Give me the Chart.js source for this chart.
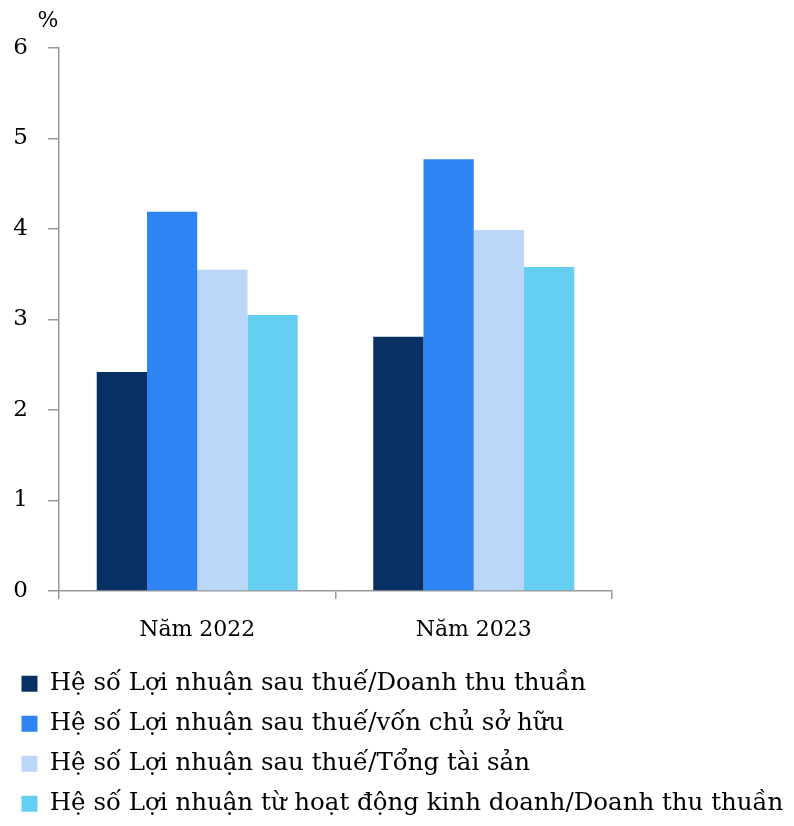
<!DOCTYPE html>
<html>
<head>
<meta charset="utf-8">
<script src="https://cdn.jsdelivr.net/npm/chart.js@4/dist/chart.umd.min.js"></script>
<style>
  html, body { margin: 0; padding: 0; background: #fff; }
  #wrap { width: 794px; height: 826px; }
</style>
</head>
<body>
<div id="wrap"><canvas id="chart" width="794" height="826"></canvas></div>
<script>
// -------- Data ----------
const categories = ["Năm 2022", "Năm 2023"];
const seriesNames = [
  "Hệ số Lợi nhuận sau thuế/Doanh thu thuần",
  "Hệ số Lợi nhuận sau thuế/vốn chủ sở hữu",
  "Hệ số Lợi nhuận sau thuế/Tổng tài sản",
  "Hệ số Lợi nhuận từ hoạt động kinh doanh/Doanh thu thuần"
];
const netMarginVals = [2.42, 2.81];
const roeVals = [4.19, 4.77];
const roaVals = [3.55, 3.99];
const opMarginVals = [3.05, 3.58];
const yTicks = [0, 1, 2, 3, 4, 5, 6];
const yUnit = "%";

const colors = ["#083063", "#2e84f2", "#bad7f9", "#64cff0"];
const FONT = "'DejaVu Serif', serif";
const AXIS = "#999999";

// -------- Plugins ----------
// draws the "%" unit above the y axis
const unitLabel = {
  id: "unitLabel",
  afterDraw(chart) {
    const y = chart.scales.y;
    const ctx = chart.ctx;
    ctx.save();
    ctx.font = "22px " + FONT;
    ctx.fillStyle = "#000";
    ctx.textAlign = "center";
    ctx.textBaseline = "middle";
    ctx.fillText(yUnit, y.right - 11, y.top - 27);
    ctx.restore();
  }
};

// -------- Chart ----------
const seriesVals = [netMarginVals, roeVals, roaVals, opMarginVals];

new Chart(document.getElementById("chart"), {
  type: "bar",
  data: {
    labels: categories,
    datasets: seriesNames.map((name, i) => ({
      label: name,
      data: seriesVals[i],
      backgroundColor: colors[i],
      borderWidth: 0,
      barPercentage: 1,
      categoryPercentage: 0.727
    }))
  },
  options: {
    responsive: false,
    animation: false,
    layout: { padding: { left: 6, top: 48, right: 0, bottom: 0 } },
    plugins: {
      tooltip: { enabled: false },
      legend: {
        position: "bottom",
        align: "start",
        labels: {
          boxWidth: 16,
          boxHeight: 16,
          padding: 15.5,
          color: "#000",
          font: { family: FONT, size: 24.5 }
        }
      }
    },
    scales: {
      x: {
        grid: { display: true, drawOnChartArea: false, tickLength: 8, color: AXIS, lineWidth: 1.5 },
        border: { color: AXIS, width: 1.5 },
        ticks: { color: "#000", font: { family: FONT, size: 22 }, padding: 18 },
        afterFit(scale) { scale.height = 65; }
      },
      y: {
        min: 0,
        max: 6,
        afterBuildTicks(scale) { scale.ticks = yTicks.map(v => ({ value: v })); },
        grid: { display: true, drawOnChartArea: false, tickLength: 11, color: AXIS, lineWidth: 1.5 },
        border: { color: AXIS, width: 1.5 },
        ticks: { color: "#000", font: { family: FONT, size: 23 }, padding: 20 },
        afterFit(scale) { scale.width = 53; }
      },
      spacer: {
        position: "right",
        display: true,
        grid: { display: false },
        border: { display: false },
        ticks: { display: false },
        afterFit(scale) { scale.width = 182; }
      }
    }
  },
  plugins: [unitLabel]
});
</script>
</body>
</html>
